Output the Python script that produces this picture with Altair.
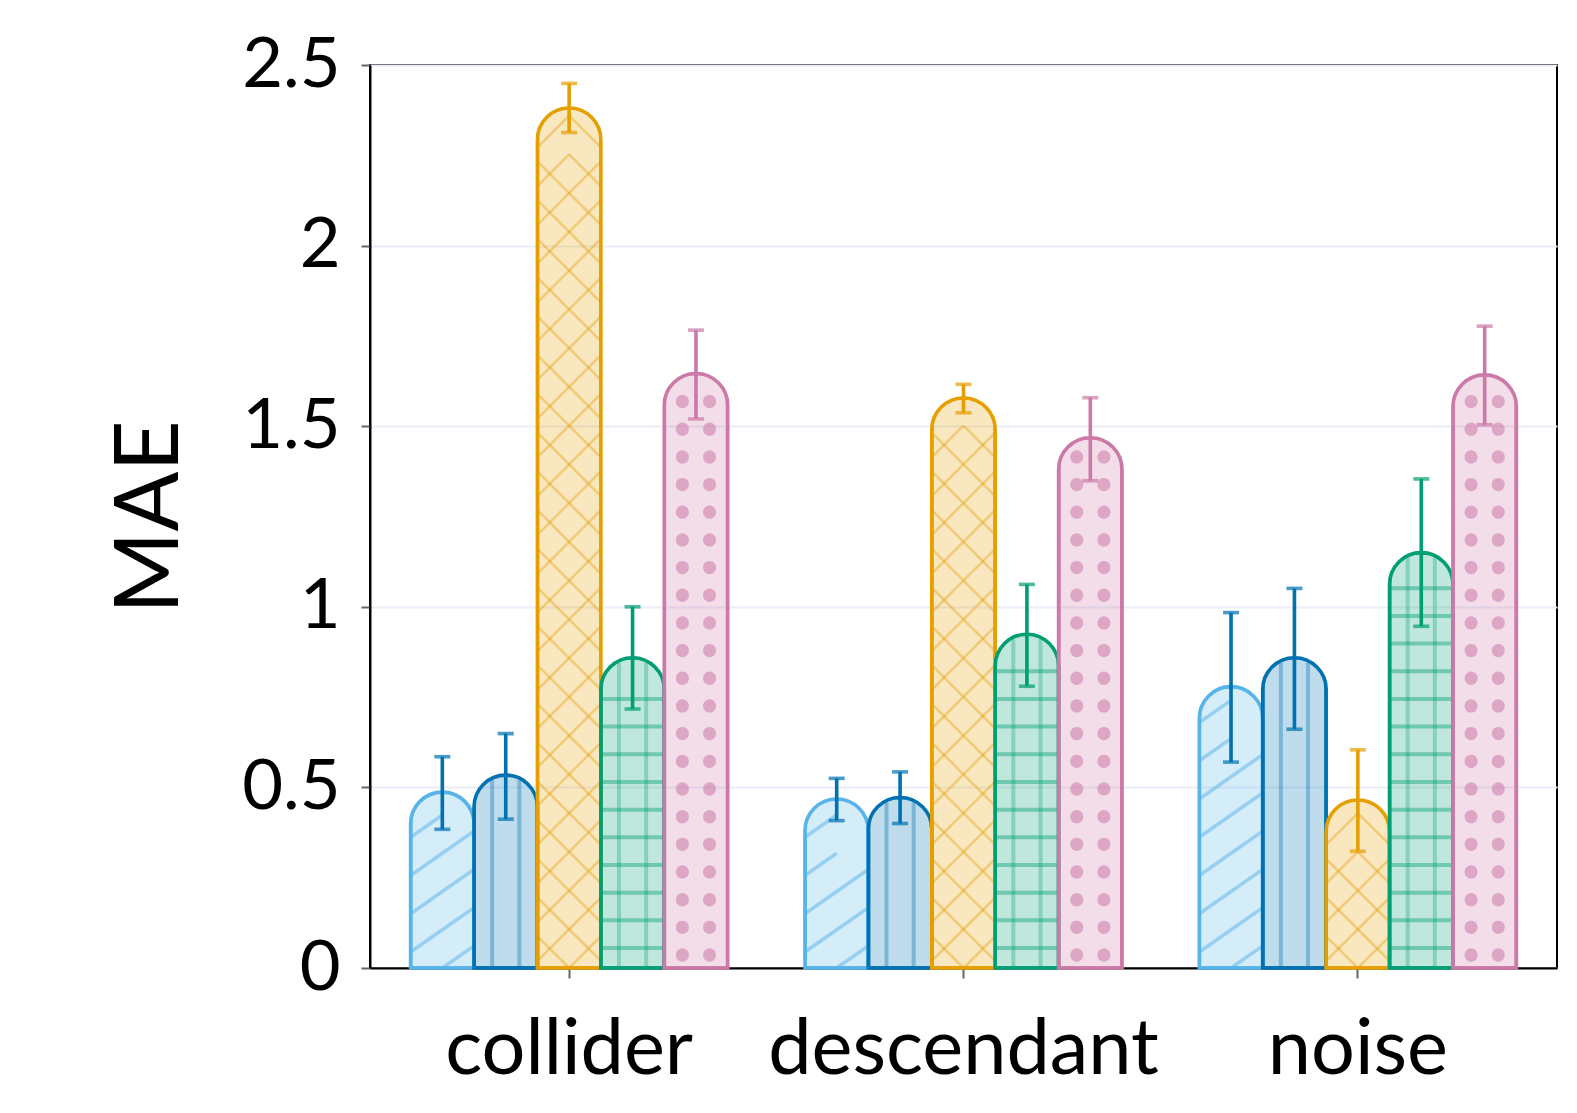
import math
import altair as alt
import pandas as pd

# ---------------- data ----------------
categories = ["collider", "descendant", "noise"]
series = ["M1", "M2", "M3", "M4", "M5"]
line_colors = ["#56B4E9", "#0072B2", "#E69F00", "#009E73", "#CC79A7"]
err_colors = ["#0072B2", "#0072B2", "#E69F00", "#009E73", "#CC79A7"]

mae_m1 = [0.487, 0.468, 0.779]
mae_m2 = [0.534, 0.472, 0.859]
mae_m3 = [2.381, 1.578, 0.465]
mae_m4 = [0.859, 0.924, 1.150]
mae_m5 = [1.646, 1.468, 1.642]

lo_m1 = [0.384, 0.408, 0.570]
lo_m2 = [0.412, 0.400, 0.661]
lo_m3 = [2.313, 1.537, 0.323]
lo_m4 = [0.717, 0.780, 0.946]
lo_m5 = [1.520, 1.349, 1.504]

hi_m1 = [0.585, 0.525, 0.984]
hi_m2 = [0.649, 0.543, 1.051]
hi_m3 = [2.449, 1.616, 0.604]
hi_m4 = [1.000, 1.062, 1.354]
hi_m5 = [1.766, 1.579, 1.777]

values = [mae_m1, mae_m2, mae_m3, mae_m4, mae_m5]
lows = [lo_m1, lo_m2, lo_m3, lo_m4, lo_m5]
highs = [hi_m1, hi_m2, hi_m3, hi_m4, hi_m5]

rows = []
for si, s in enumerate(series):
    for ci, c in enumerate(categories):
        rows.append({"category": c, "series": s, "value": values[si][ci],
                     "lo": lows[si][ci], "hi": highs[si][ci]})
df = pd.DataFrame(rows)

# ---------------- geometry / style constants ----------------
K = 1.0063            # small compensation for the page capture scale
W, H = round(1180 * K), round(897 * K)
YMAX = 2.5
U = YMAX / H          # data units per pixel
HW = 31.5 * K         # half bar width in px (pattern unit)
SIZE = (2 * HW) ** 2  # symbol size so that 1 path unit == HW px
FONT = "Lato"
SW = 3.6 * K          # outline / error bar width


def dome(dx):
    dx = min(abs(dx), HW)
    return HW - math.sqrt(HW * HW - dx * dx)


def f(v):
    return f"{v / HW:.4f}"


x_axis = alt.Axis(title=None, labelAngle=0, labelFontSize=77 * K, labelFont=FONT,
                  labelColor="black", labelPadding=34, labelLimit=0, tickSize=10,
                  tickWidth=2, tickColor="#666666", domainColor="black",
                  domainWidth=2, grid=False)
y_axis = alt.Axis(values=[0, 0.5, 1, 1.5, 2, 2.5], format="~g", labelFontSize=70 * K,
                  labelFont=FONT, labelColor="black", labelPadding=21, tickSize=9,
                  tickWidth=2, tickColor="#666666", domainColor="black", domainWidth=2,
                  grid=True, gridColor="#ebedf7", gridWidth=2, title="MAE",
                  titleFontSize=88 * K, titleFont=FONT, titleFontWeight="normal",
                  titleColor="black", titlePadding=45)

X = alt.X("category:N", sort=categories,
          scale=alt.Scale(paddingInner=0.196, paddingOuter=0.103), axis=x_axis)
XO = alt.XOffset("series:N", sort=series,
                 scale=alt.Scale(paddingInner=0, paddingOuter=0))


def Y(field):
    return alt.Y(f"{field}:Q", scale=alt.Scale(domain=[0, YMAX], nice=False),
                 axis=y_axis, title="MAE")


fill_scale = alt.Scale(domain=series, range=line_colors)
err_scale = alt.Scale(domain=series, range=err_colors)

base = alt.Chart(df)

bars_fill = base.mark_bar(cornerRadiusTopLeft=HW, cornerRadiusTopRight=HW,
                          fillOpacity=0.25, strokeWidth=0).encode(
    x=X, xOffset=XO, y=Y("value"),
    fill=alt.Fill("series:N", scale=fill_scale, legend=None))

bars_stroke = base.mark_bar(cornerRadiusTopLeft=HW, cornerRadiusTopRight=HW,
                            fillOpacity=0, strokeWidth=SW).encode(
    x=X, xOffset=XO, y=Y("value"),
    stroke=alt.Stroke("series:N", scale=fill_scale, legend=None))


def levels(sidx, start_px, step_px, margin_px):
    return (base.transform_filter(alt.datum.series == series[sidx])
            .transform_calculate(lv=f"sequence({start_px * U}, datum.value, {step_px * U})")
            .transform_flatten(["lv"])
            .transform_filter(f"datum.lv <= datum.value - {margin_px * U}"))


def segment(sidx, dx, w, h, rising, start_px, step_px, opacity, width):
    """Hatch segment of width w, height h, centred dx px from the bar centre."""
    xl, xr = dx - w / 2, dx + w / 2
    if rising:
        path = f"M{f(xl)},{f(h / 2)}L{f(xr)},{f(-h / 2)}"
        margin = max(-h / 2 + dome(xl), h / 2 + dome(xr)) + 2
    else:
        path = f"M{f(xl)},{f(-h / 2)}L{f(xr)},{f(h / 2)}"
        margin = max(h / 2 + dome(xl), -h / 2 + dome(xr)) + 2
    return levels(sidx, start_px, step_px, margin).mark_point(
        shape=path, size=SIZE, filled=False, stroke=line_colors[sidx],
        strokeOpacity=opacity, strokeWidth=width, clip=True).encode(
        x=X, xOffset=XO, y=Y("lv"))


def vlines(sidx, offsets, opacity, width):
    parts = []
    for dx in offsets:
        m = dome(dx) + 2
        parts.append(f"'M{f(dx)},{f(m)}L{f(dx)},' + format(datum.value / {U * HW}, '.4f')")
    expr = " + ".join(parts)
    return (base.transform_filter(alt.datum.series == series[sidx])
            .transform_calculate(vpath=expr)
            .mark_point(size=SIZE, filled=False, stroke=line_colors[sidx],
                        strokeOpacity=opacity, strokeWidth=width, clip=True)
            .encode(x=X, xOffset=XO, y=Y("value"),
                    shape=alt.Shape("vpath:N", scale=None, legend=None)))


patterns = []
# M1: diagonal "/" hatch
P1, h1 = 38.0 * K, 0.7 * HW
patterns.append(segment(0, HW / 2, HW, h1, True, h1 / 2 - 2 * P1, P1, 0.7, 3.5))
patterns.append(segment(0, -HW / 2, HW, h1, True, -h1 / 2 - 2 * P1, P1, 0.7, 3.5))
# M2: vertical lines
patterns.append(vlines(1, [-13.5 * K, 13.5 * K], 0.5, 4))
# M3: cross hatch
P3 = 38.5 * K
patterns.append(segment(2, HW / 2, HW, HW, True, HW / 2 - 2 * P3, P3, 0.55, 2.5))
patterns.append(segment(2, -HW / 2, HW, HW, True, -HW / 2 - 2 * P3, P3, 0.55, 2.5))
patterns.append(segment(2, HW / 2, HW, HW, False, -HW / 2 - 2 * P3, P3, 0.55, 2.5))
patterns.append(segment(2, -HW / 2, HW, HW, False, HW / 2 - 2 * P3, P3, 0.55, 2.5))
# M4: grid
P4 = 27.5 * K
patterns.append(levels(3, 20, P4, HW + 2).mark_tick(
    orient="horizontal", size=2 * HW, thickness=4, color=line_colors[3],
    opacity=0.42).encode(x=X, xOffset=XO, y=Y("lv")))
patterns.append(vlines(3, [-13.5 * K, 13.5 * K], 0.42, 4))
# M5: dots
P5, R5 = 27.5 * K, 6.5
dot_path = ""
for dx in (-13.5 * K, 13.5 * K):
    dot_path += (f"M{f(dx - R5)},0a{f(R5)},{f(R5)} 0 1,0 {f(2 * R5)},0"
                 f"a{f(R5)},{f(R5)} 0 1,0 {f(-2 * R5)},0Z")
patterns.append(levels(4, 13, P5, dome(13.5 * K) + R5 + 2).mark_point(
    shape=dot_path, filled=True, size=SIZE, fill=line_colors[4],
    fillOpacity=0.55, strokeWidth=0, clip=True).encode(
    x=X, xOffset=XO, y=Y("lv")))

err_rule = base.mark_rule(strokeWidth=SW).encode(
    x=X, xOffset=XO, y=Y("lo"), y2="hi:Q",
    color=alt.Color("series:N", scale=err_scale, legend=None))

err_caps = base.transform_fold(["lo", "hi"], as_=["end", "ev"]).mark_tick(
    orient="horizontal", size=16, thickness=SW).encode(
    x=X, xOffset=XO, y=Y("ev"),
    color=alt.Color("series:N", scale=err_scale, legend=None))

chart = alt.layer(bars_fill, *patterns, bars_stroke, err_rule, err_caps).properties(
    width=W, height=H,
    background="white",
    autosize=alt.AutoSizeParams(type="none"),
    padding={"left": 362, "top": 57, "right": 4, "bottom": 126},
).configure_view(stroke="black", strokeWidth=2)

chart.save("out.html", embed_options={"renderer": "svg", "actions": False})
